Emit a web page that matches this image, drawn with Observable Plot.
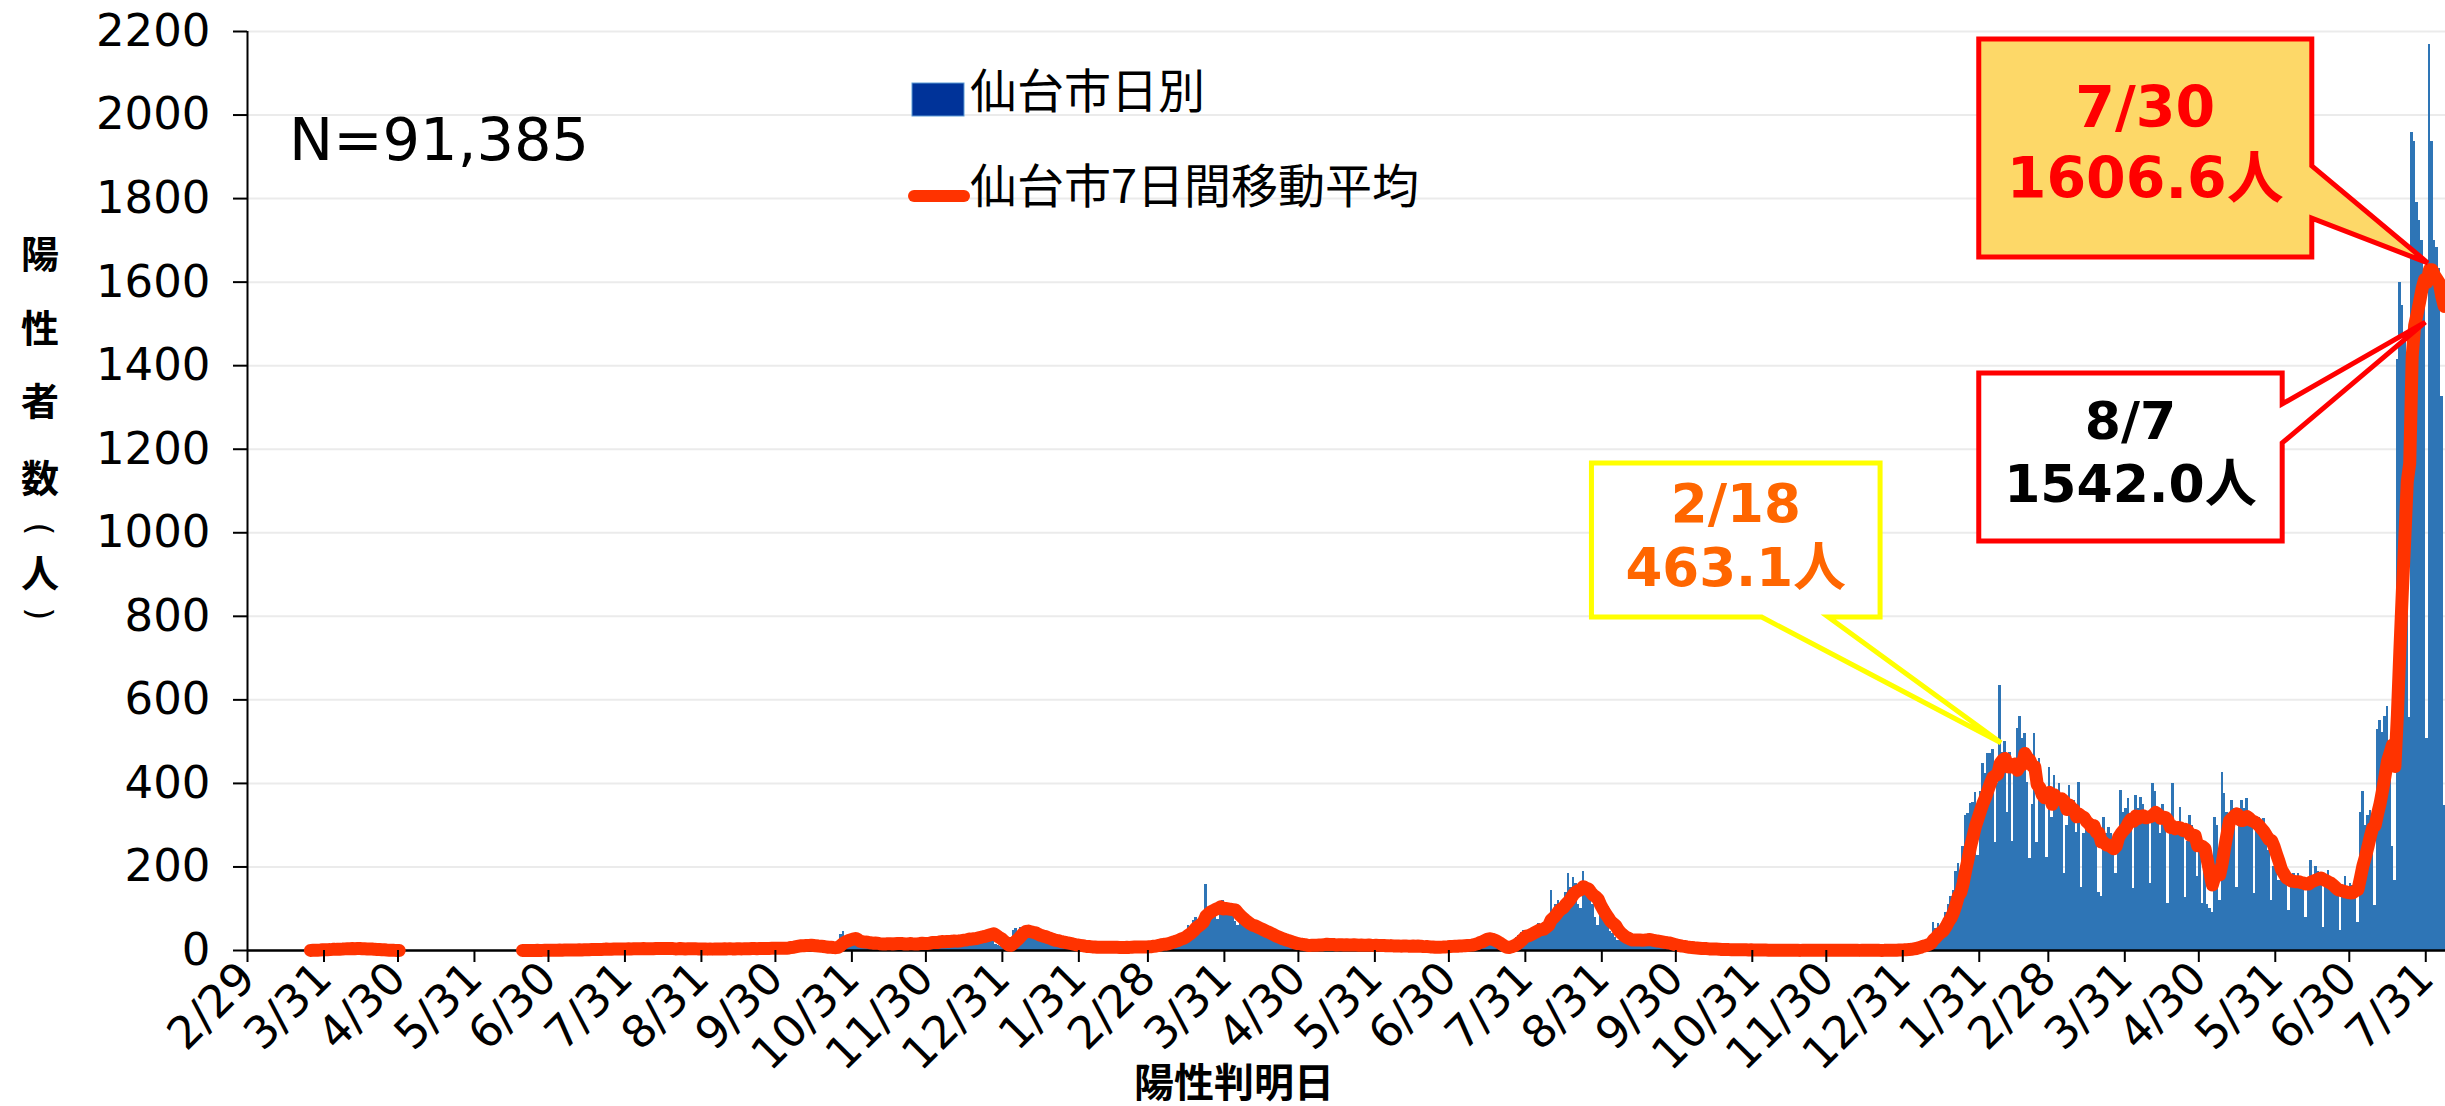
<!DOCTYPE html>
<html><head><meta charset="utf-8">
<script src="https://cdn.jsdelivr.net/npm/d3@7"></script>
<script src="https://cdn.jsdelivr.net/npm/@observablehq/plot@0.6"></script>
<style>
html,body{margin:0;padding:0;background:#fff;}
#wrap{position:relative;width:2445px;height:1106px;overflow:hidden;background:#fff;}
#wrap svg{position:absolute;left:0;top:0;}
</style></head><body><div id="wrap"></div>
<script>
// ---- Daily positives, Sendai ----
const d2020_02 = [0];
const d2020_03 = [0,0,0,0,0,0,0,0,0,0,0,0,0,0,0,0,0,0,0,0,0,0,0,0,2,1,0,3,1,4,2];
const d2020_04 = [3,2,4,3,5,4,3,6,5,4,5,3,6,4,3,4,2,3,2,1,2,1,1,1,0,0,0,0,0,0];
const d2020_05 = [0,0,0,0,0,0,0,0,0,0,0,0,0,0,0,0,0,0,0,0,0,0,0,0,0,0,0,0,0,0,0];
const d2020_06 = [0,0,0,0,0,0,0,0,0,0,0,0,0,0,0,0,0,0,1,0,0,1,0,0,1,0,0,2,0,1];
const d2020_07 = [1,0,2,1,0,3,1,2,0,1,3,2,1,4,2,1,3,5,2,1,4,3,6,2,3,5,4,2,3,6,4];
const d2020_08 = [5,3,6,4,2,7,5,3,4,6,2,5,8,4,3,5,6,2,4,3,5,7,3,2,4,6,3,5,4,2,3];
const d2020_09 = [4,2,5,3,6,4,2,3,5,4,6,3,2,5,4,3,7,5,4,6,3,2,5,8,6,4,7,5,3,6];
const d2020_10 = [5,7,4,8,10,12,9,14,16,11,8,13,15,12,9,10,8,6,7,9,5,8,6,7,12,38,45,30,25,20,22];
const d2020_11 = [22,18,15,24,20,17,13,16,19,14,12,18,15,20,17,13,19,16,18,14,12,17,20,15,13,18,21,16,14,19];
const d2020_12 = [20,24,18,22,26,21,17,23,25,19,28,24,22,26,30,28,33,27,31,25,38,42,35,45,40,44,36,15,12,10,8];
const d2021_01 = [5,6,30,48,52,45,55,50,40,35,38,42,36,33,30,28,25,22,28,20,18,24,17,15,14,18,12,10,13,11,9];
const d2021_02 = [8,10,6,9,7,11,5,8,9,6,10,7,8,5,9,7,6,10,8,7,9,11,6,8,10,7,9,12];
const d2021_03 = [12,15,11,18,20,16,14,22,28,25,35,30,38,27,45,60,55,72,80,68,58,85,157,95,105,100,90,75,110,120,105];
const d2021_04 = [98,92,85,70,60,75,68,62,58,55,45,50,55,48,42,38,35,28,30,32,28,25,22,20,15,18,16,14,12,15];
const d2021_05 = [14,10,8,12,16,13,15,18,11,14,17,12,15,13,10,16,14,12,15,11,13,16,12,10,14,13,11,15,12,10,13];
const d2021_06 = [12,10,13,9,11,14,8,10,12,9,11,13,10,8,12,9,11,10,8,7,9,6,8,7,9,10,8,11,9,12];
const d2021_07 = [10,12,9,14,11,13,15,12,16,20,25,30,28,35,32,26,15,10,8,6,7,5,4,12,20,25,30,35,42,48,40];
const d2021_08 = [30,45,52,58,65,60,48,60,80,144,95,110,120,85,85,140,185,150,175,160,110,100,190,160,140,120,110,80,60,95,85];
const d2021_09 = [70,60,45,40,30,25,35,30,28,22,20,15,28,32,30,26,25,24,20,18,24,22,20,18,16,12,14,12,10,9];
const d2021_10 = [9,7,8,6,5,7,4,5,3,4,6,3,2,4,3,2,3,1,2,3,1,2,1,3,2,1,2,1,0,2,1];
const d2021_11 = [1,0,2,1,0,1,0,0,1,2,0,1,0,0,1,0,1,0,0,2,0,1,0,1,0,0,1,0,1,0];
const d2021_12 = [1,0,0,1,0,2,0,1,0,0,1,0,0,2,1,0,0,1,0,1,0,0,1,2,0,1,0,1,3,2,4];
const d2022_01 = [3,2,5,8,10,14,15,20,12,22,30,68,52,64,55,40,90,110,130,144,188,208,100,250,323,327,351,355,379,227,380];
const d2022_02 = [447,423,471,471,480,259,400,634,475,500,331,475,260,450,531,559,507,520,403,220,350,520,259,460,400,350,223,439];
const d2022_03 = [319,420,380,400,360,184,300,395,359,359,283,403,150,279,330,320,300,310,290,140,130,319,280,295,280,260,184,280,383,330,340];
const d2022_04 = [363,320,148,371,340,367,350,327,330,160,399,380,340,279,350,320,112,280,399,300,300,343,280,128,260,323,300,290,176,280];
const d2022_05 = [112,230,110,100,90,319,300,120,427,375,330,306,360,340,152,330,359,340,363,330,300,136,300,319,290,315,260,240,120,200,190];
const d2022_06 = [168,180,190,170,96,170,184,160,184,175,160,80,170,216,180,200,190,180,56,150,192,160,168,150,140,48,140,176,150,160];
const d2022_07 = [155,172,68,330,380,299,323,335,320,108,530,550,523,560,583,450,250,168,1414,1600,1545,1480,1400,557,1958,1937,1790,1747,1700,1557,507];
const d2022_08 = [2169,1937,1700,1683,1633,1326,346];

const segments = [
  ["2020-02-29", d2020_02], ["2020-03-01", d2020_03], ["2020-04-01", d2020_04], ["2020-05-01", d2020_05],
  ["2020-06-01", d2020_06], ["2020-07-01", d2020_07], ["2020-08-01", d2020_08], ["2020-09-01", d2020_09],
  ["2020-10-01", d2020_10], ["2020-11-01", d2020_11], ["2020-12-01", d2020_12], ["2021-01-01", d2021_01],
  ["2021-02-01", d2021_02], ["2021-03-01", d2021_03], ["2021-04-01", d2021_04], ["2021-05-01", d2021_05],
  ["2021-06-01", d2021_06], ["2021-07-01", d2021_07], ["2021-08-01", d2021_08], ["2021-09-01", d2021_09],
  ["2021-10-01", d2021_10], ["2021-11-01", d2021_11], ["2021-12-01", d2021_12], ["2022-01-01", d2022_01],
  ["2022-02-01", d2022_02], ["2022-03-01", d2022_03], ["2022-04-01", d2022_04], ["2022-05-01", d2022_05],
  ["2022-06-01", d2022_06], ["2022-07-01", d2022_07], ["2022-08-01", d2022_08]
];

const xTickDates = ["2020-02-29","2020-03-31","2020-04-30","2020-05-31","2020-06-30","2020-07-31","2020-08-31",
  "2020-09-30","2020-10-31","2020-11-30","2020-12-31","2021-01-31","2021-02-28","2021-03-31","2021-04-30",
  "2021-05-31","2021-06-30","2021-07-31","2021-08-31","2021-09-30","2021-10-31","2021-11-30","2021-12-31",
  "2022-01-31","2022-02-28","2022-03-31","2022-04-30","2022-05-31","2022-06-30","2022-07-31"];
const yTicks = [0,200,400,600,800,1000,1200,1400,1600,1800,2000,2200];

const legendLabels = ["仙台市日別", "仙台市7日間移動平均"];
const totalLabel = "N=91,385";
// vertical axis title: characters, with parentheses drawn turned (vertical writing)
const yTitleChars = [["陽", 0], ["性", 0], ["者", 0], ["数", 0], ["(", 90], ["人", 0], [")", 90]];
const xTitle = "陽性判明日";

// callouts in data units
const callouts = [
  {lines: ["2/18", "463.1人"], color: "#ff6600", fill: "#ffffff", stroke: "#ffff00", size: 53,
   box: ["2021-08-27", "2021-12-22", 1166, 797], textY: [1025, 871], side: "bottom",
   base: ["2021-11-04", "2021-12-01"], tip: ["2022-02-09", 496]},
  {lines: ["7/30", "1606.6人"], color: "#ff0000", fill: "#fdd868", stroke: "#ff0000", size: 57,
   box: ["2022-01-31", "2022-06-15", 2181, 1659], textY: [1970, 1800], side: "right",
   base: [1877, 1752], tip: ["2022-08-01", 1645]},
  {lines: ["8/7", "1542.0人"], color: "#000000", fill: "#ffffff", stroke: "#ff0000", size: 52,
   box: ["2022-01-31", "2022-06-03", 1381, 979], textY: [1223, 1072], side: "right",
   base: [1307, 1214], tip: ["2022-07-31", 1503]}
];

// ---- build rows ----
const rows = [];
for (const [start, vals] of segments) {
  const s = new Date(start + "T00:00:00Z");
  vals.forEach((v, i) => rows.push({date: d3.utcDay.offset(s, i), count: v}));
}
const maRows = rows.map((r, i) => {
  let sum = 0;
  for (let j = Math.max(0, i - 6); j <= i; j++) sum += rows[j].count;
  return {mid: d3.utcHour.offset(r.date, 12), ma: sum > 0 ? sum / 7 : NaN};
});

const x0 = new Date("2020-02-29T00:00:00Z");
const x1 = new Date("2022-08-08T00:00:00Z");
const tickDates = xTickDates.map(s => new Date(s + "T00:00:00Z"));

const plot = Plot.plot({
  width: 2445, height: 1106,
  marginLeft: 247, marginRight: 0, marginTop: 31, marginBottom: 156,
  style: {background: "#fff", fontFamily: "'DejaVu Sans', sans-serif", overflow: "visible", color: "#000"},
  x: {type: "utc", domain: [x0, x1]},
  y: {domain: [0, 2200]},
  marks: [
    Plot.gridY(yTicks, {stroke: "#ebebeb", strokeOpacity: 1, strokeWidth: 2}),
    Plot.rectY(rows.filter(d => d.count > 0), {
      x1: "date", x2: d => d3.utcDay.offset(d.date, 1), y: "count",
      fill: "#2e75b6", inset: 0, shapeRendering: "crispEdges"
    }),
    Plot.ruleY([0], {stroke: "#000", strokeWidth: 2.5}),
    Plot.ruleX([x0], {stroke: "#000", strokeWidth: 2}),
    Plot.line(maRows, {x: "mid", y: "ma", stroke: "#ff3300", strokeWidth: 13,
      strokeLinecap: "round", strokeLinejoin: "round"}),
    Plot.axisY(yTicks, {tickSize: 14, tickPadding: 23, fontSize: 45, tickFormat: d => String(d),
      label: null, stroke: "#000", strokeWidth: 2}),
    Plot.axisX(tickDates, {tickSize: 12, tickPadding: 8, tickRotate: -45, fontSize: 45,
      tickFormat: d => `${d.getUTCMonth() + 1}/${d.getUTCDate()}`, label: null, stroke: "#000", strokeWidth: 2})
  ]
});
const wrap = document.getElementById("wrap");
wrap.appendChild(plot);

// ---- overlay: legend, texts, callouts ----
const xs = plot.scale("x"), ys = plot.scale("y");
const X = d => xs.apply(new Date(d + "T00:00:00Z"));
const Y = v => ys.apply(v);

const svg = d3.create("svg").attr("width", 2445).attr("height", 1106)
  .attr("viewBox", "0 0 2445 1106").style("overflow", "hidden");

// total
svg.append("text").attr("x", 289).attr("y", 160).attr("font-family", "'DejaVu Sans', sans-serif")
  .attr("font-size", 59).attr("fill", "#000").text(totalLabel);

// legend
svg.append("rect").attr("x", 912).attr("y", 83).attr("width", 52).attr("height", 33)
  .attr("fill", "#003399").attr("stroke", "#5b9bd5").attr("stroke-width", 1);
svg.append("line").attr("x1", 914).attr("x2", 964).attr("y1", 196).attr("y2", 196)
  .attr("stroke", "#ff3300").attr("stroke-width", 12).attr("stroke-linecap", "round");
[[108, legendLabels[0]], [203, legendLabels[1]]].forEach(([y, t]) =>
  svg.append("text").attr("x", 970).attr("y", y).attr("font-family", "'Noto Sans CJK JP', sans-serif")
    .attr("font-size", 47).attr("fill", "#000").text(t));

// y title (vertical)
const yCenters = [251, 325, 398, 475, 529, 570, 614];
yTitleChars.forEach(([c, rot], i) => {
  const t = svg.append("text").attr("x", 40).attr("y", yCenters[i]).attr("text-anchor", "middle")
    .attr("dominant-baseline", "central")
    .attr("font-family", rot ? "'DejaVu Sans', sans-serif" : "'Noto Sans CJK JP', sans-serif")
    .attr("font-weight", rot ? 400 : 700).attr("font-size", rot ? 34 : 38).attr("fill", "#000").text(c);
  if (rot) t.attr("transform", `rotate(${rot},40,${yCenters[i]})`);
});

// x title
svg.append("text").attr("x", 1234).attr("y", 1097).attr("text-anchor", "middle")
  .attr("font-family", "'Noto Sans CJK JP', sans-serif").attr("font-weight", 700)
  .attr("font-size", 40).attr("fill", "#000").text(xTitle);

// callouts
for (const c of callouts) {
  const bx0 = X(c.box[0]), bx1 = X(c.box[1]), by0 = Y(c.box[2]), by1 = Y(c.box[3]);
  const tx = X(c.tip[0]), ty = Y(c.tip[1]);
  let pts;
  if (c.side === "bottom") {
    const p0 = X(c.base[0]), p1 = X(c.base[1]);
    pts = [[bx0, by0], [bx1, by0], [bx1, by1], [p1, by1], [tx, ty], [p0, by1], [bx0, by1]];
  } else {
    const q0 = Y(c.base[0]), q1 = Y(c.base[1]);
    pts = [[bx0, by0], [bx1, by0], [bx1, q0], [tx, ty], [bx1, q1], [bx1, by1], [bx0, by1]];
  }
  svg.append("path").attr("d", "M" + pts.map(p => p.join(",")).join("L") + "Z")
    .attr("fill", c.fill).attr("stroke", c.stroke).attr("stroke-width", 5).attr("stroke-linejoin", "miter");
  c.lines.forEach((t, i) =>
    svg.append("text").attr("x", (bx0 + bx1) / 2).attr("y", Y(c.textY[i])).attr("text-anchor", "middle")
      .attr("font-family", "'DejaVu Sans', 'Noto Sans CJK JP', sans-serif").attr("font-weight", 700)
      .attr("font-size", c.size).attr("fill", c.color).text(t));
}
wrap.appendChild(svg.node());
</script></body></html>
